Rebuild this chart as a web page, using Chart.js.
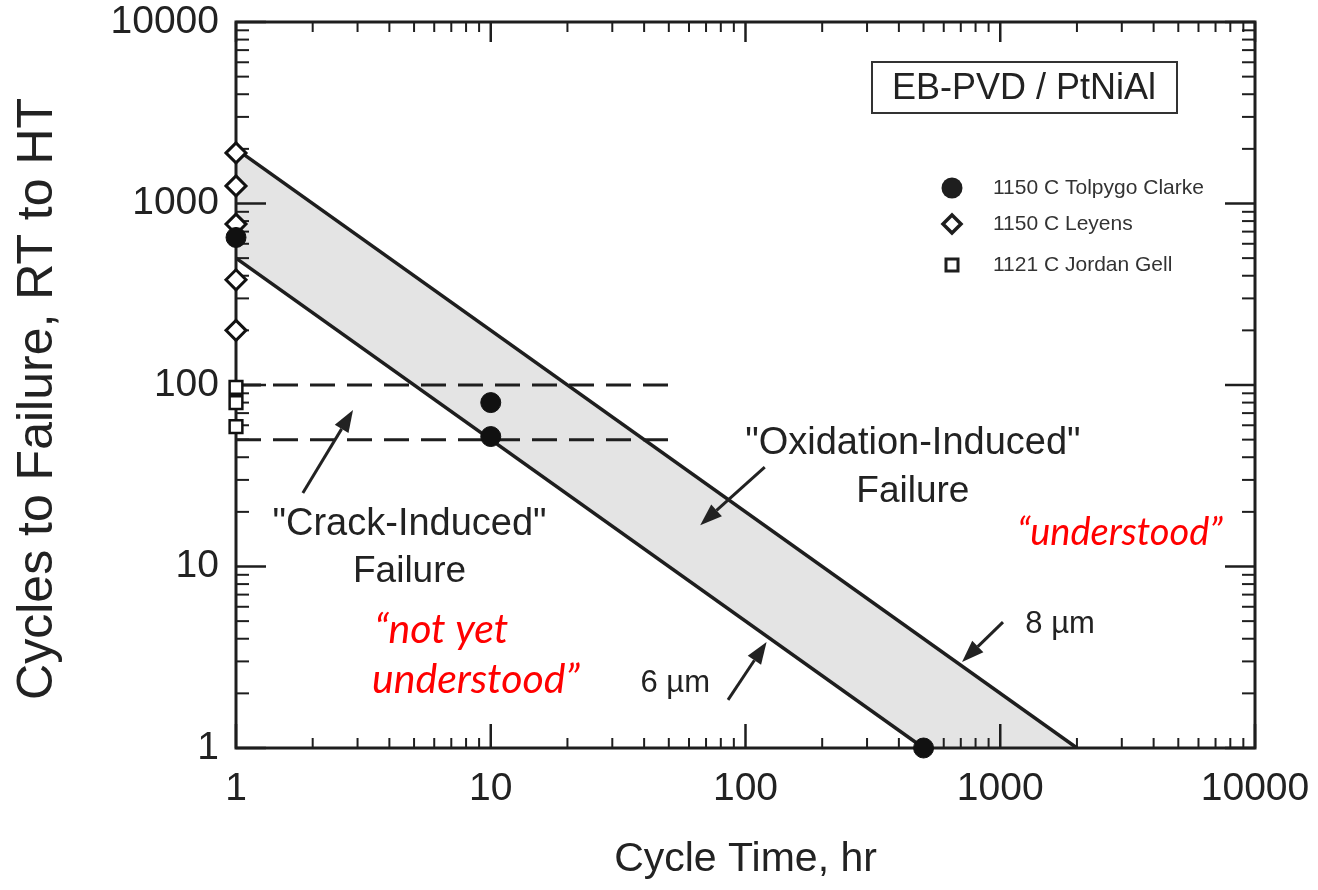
<!DOCTYPE html>
<html>
<head>
<meta charset="utf-8">
<script src="https://cdn.jsdelivr.net/npm/chart.js@4.4.1/dist/chart.umd.min.js"></script>
<style>
  html, body { margin: 0; padding: 0; background: #fff; }
</style>
</head>
<body>
<canvas id="myChart" width="1318" height="890"></canvas>
<script>
// ======================= data ================
const tickValues = [1, 10, 100, 1000, 10000];
const minorSteps = [2, 3, 4, 5, 6, 7, 8, 9];

// band limits (oxide thickness lines)
const line8umX = [1, 2000];
const line8umY = [2000, 1];
const line6umX = [1, 500];
const line6umY = [500, 1];
const bandBaseX = [1, 500, 2000];
const bandBaseY = [500, 1, 1];

// crack-induced limits
const crackLimitX = [1, 53];
const crackUpperY = [100, 100];
const crackLowerY = [50, 50];

// measured points
const tolpygoX = [1, 10, 10, 500];
const tolpygoY = [650, 80, 52, 1];
const leyensX = [1, 1, 1, 1, 1];
const leyensY = [1900, 1250, 770, 380, 200];
const jordanX = [1, 1, 1];
const jordanY = [97, 80, 59];

const SANS = '"Liberation Sans", Arial, Helvetica, sans-serif';
const INK = '#1e1e1e';

const pts = (xs, ys) => xs.map((x, i) => ({ x: x, y: ys[i] }));

// ======================= annotations ================
const notes = [
  { text: '"Crack-Induced"', x: 4.8, y: 17.1, size: 38 },
  { text: 'Failure', x: 4.8, y: 9.3, size: 37 },
  { text: '"Oxidation-Induced"', x: 454, y: 47.9, size: 38 },
  { text: 'Failure', x: 454, y: 25.7, size: 37 },
  { text: '6 \u00b5m', x: 53, y: 2.28, size: 31 },
  { text: '8 \u00b5m', x: 1717, y: 4.77, size: 31 }
];
const redNotes = [
  { text: '\u201cunderstood\u201d', x: 2950, y: 15.3, align: 'center', size: 38 },
  { text: '\u201cnot yet', x: 3.5, y: 4.47, align: 'left', size: 41 },
  { text: 'understood\u201d', x: 3.42, y: 2.37, align: 'left', size: 41 }
];
const arrows = [
  { from: [1.83, 25.4], to: [2.88, 72.8] },
  { from: [119, 35.3], to: [66.4, 16.9] },
  { from: [85.4, 1.84], to: [121, 3.84] },
  { from: [1025, 4.94], to: [708, 2.98] }
];
const legendItems = [
  { label: '1150 C Tolpygo Clarke', style: 'circle', dy: 166 },
  { label: '1150 C Leyens', style: 'diamond', dy: 202 },
  { label: '1121 C Jordan Gell', style: 'square', dy: 243 }
];

function drawArrow(ctx, x1, y1, x2, y2) {
  const ang = Math.atan2(y2 - y1, x2 - x1);
  const L = 22, W = 8;
  const bx = x2 - L * Math.cos(ang), by = y2 - L * Math.sin(ang);
  ctx.beginPath();
  ctx.moveTo(x1, y1);
  ctx.lineTo(bx, by);
  ctx.lineWidth = 3;
  ctx.stroke();
  ctx.beginPath();
  ctx.moveTo(x2, y2);
  ctx.lineTo(bx + W * Math.sin(ang), by - W * Math.cos(ang));
  ctx.lineTo(bx - W * Math.sin(ang), by + W * Math.cos(ang));
  ctx.closePath();
  ctx.fill();
}

const frameAndTicks = {
  id: 'frameAndTicks',
  beforeDatasetsDraw(chart) {
    const { ctx, chartArea: a, scales: { x, y } } = chart;
    const seg = (x1, y1, x2, y2) => { ctx.beginPath(); ctx.moveTo(x1, y1); ctx.lineTo(x2, y2); ctx.stroke(); };
    ctx.save();
    ctx.strokeStyle = INK;
    ctx.lineWidth = 2;
    tickValues.slice(0, -1).forEach(d => {
      minorSteps.forEach(m => {
        const px = x.getPixelForValue(d * m);
        const py = y.getPixelForValue(d * m);
        seg(px, a.bottom, px, a.bottom - 10);
        seg(px, a.top, px, a.top + 10);
        seg(a.left, py, a.left + 13, py);
        seg(a.right, py, a.right - 13, py);
      });
    });
    ctx.lineWidth = 2.5;
    tickValues.forEach(v => {
      const px = x.getPixelForValue(v);
      const py = y.getPixelForValue(v);
      seg(px, a.bottom, px, a.bottom - 24);
      seg(px, a.top, px, a.top + 20);
      seg(a.left, py, a.left + 30, py);
      seg(a.right, py, a.right - 30, py);
    });
    ctx.lineWidth = 3;
    ctx.strokeRect(a.left, a.top, a.width, a.height);
    ctx.restore();
  },
  afterDatasetsDraw(chart) {
    const { ctx, chartArea: a, scales: { x, y } } = chart;
    ctx.save();
    ctx.fillStyle = '#222';
    ctx.strokeStyle = '#222';
    ctx.textAlign = 'center';
    ctx.textBaseline = 'middle';
    notes.forEach(n => {
      ctx.font = n.size + 'px ' + SANS;
      ctx.fillText(n.text, x.getPixelForValue(n.x), y.getPixelForValue(n.y));
    });
    arrows.forEach(r => {
      drawArrow(ctx, x.getPixelForValue(r.from[0]), y.getPixelForValue(r.from[1]),
        x.getPixelForValue(r.to[0]), y.getPixelForValue(r.to[1]));
    });
    ctx.fillStyle = '#ff0000';
    redNotes.forEach(n => {
      ctx.font = 'italic ' + n.size + 'px Lato, "Open Sans", sans-serif';
      ctx.textAlign = n.align;
      ctx.fillText(n.text, x.getPixelForValue(n.x), y.getPixelForValue(n.y));
    });

    // title box
    const bx = a.right - 383, by = a.top + 40;
    ctx.fillStyle = '#fff';
    ctx.fillRect(bx, by, 305, 51);
    ctx.strokeStyle = '#333';
    ctx.lineWidth = 2;
    ctx.strokeRect(bx, by, 305, 51);
    ctx.fillStyle = '#222';
    ctx.textAlign = 'center';
    ctx.font = '36px ' + SANS;
    ctx.fillText('EB-PVD / PtNiAl', bx + 152, by + 27);

    // legend
    const lx = a.right - 303;
    ctx.font = '21px ' + SANS;
    ctx.textAlign = 'left';
    legendItems.forEach(it => {
      const ly = a.top + it.dy;
      ctx.fillStyle = INK;
      ctx.strokeStyle = INK;
      if (it.style === 'circle') {
        ctx.beginPath(); ctx.arc(lx, ly, 10.5, 0, Math.PI * 2); ctx.fill();
      } else if (it.style === 'diamond') {
        ctx.lineWidth = 3.5;
        ctx.beginPath();
        ctx.moveTo(lx, ly - 9); ctx.lineTo(lx + 9, ly); ctx.lineTo(lx, ly + 9); ctx.lineTo(lx - 9, ly);
        ctx.closePath(); ctx.stroke();
      } else {
        ctx.lineWidth = 3;
        ctx.strokeRect(lx - 6, ly - 6, 12, 12);
      }
      ctx.fillStyle = '#333';
      ctx.fillText(it.label, lx + 41, ly);
    });
    ctx.restore();
  }
};

const ctx = document.getElementById('myChart');

new Chart(ctx, {
  type: 'scatter',
  data: {
    datasets: [
      {
        label: '8 um', data: pts(line8umX, line8umY), showLine: true,
        borderColor: INK, borderWidth: 3.5, pointRadius: 0,
        fill: 1, backgroundColor: '#e4e4e4', order: 5
      },
      {
        label: 'band base', data: pts(bandBaseX, bandBaseY), showLine: true,
        borderColor: 'rgba(0,0,0,0)', borderWidth: 0, pointRadius: 0, fill: false, order: 9
      },
      {
        label: '6 um', data: pts(line6umX, line6umY), showLine: true,
        borderColor: INK, borderWidth: 3.5, pointRadius: 0, order: 4
      },
      {
        label: 'crack upper', data: pts(crackLimitX, crackUpperY), showLine: true,
        borderColor: INK, borderWidth: 3, borderDash: [25, 12], pointRadius: 0, order: 3
      },
      {
        label: 'crack lower', data: pts(crackLimitX, crackLowerY), showLine: true,
        borderColor: INK, borderWidth: 3, borderDash: [25, 12], pointRadius: 0, order: 3
      },
      {
        label: '1150 C Tolpygo Clarke', data: pts(tolpygoX, tolpygoY), showLine: false,
        pointStyle: 'circle', pointRadius: 10, backgroundColor: '#111', borderColor: '#111',
        borderWidth: 1, clip: false, order: 1
      },
      {
        label: '1150 C Leyens', data: pts(leyensX, leyensY), showLine: false,
        pointStyle: 'rectRot', pointRadius: 10, backgroundColor: '#fff', borderColor: '#111',
        borderWidth: 3, clip: false, order: 2
      },
      {
        label: '1121 C Jordan Gell', data: pts(jordanX, jordanY), showLine: false,
        pointStyle: 'rect', pointRadius: 9, backgroundColor: '#fff', borderColor: '#111',
        borderWidth: 2.5, clip: false, order: 2
      }
    ]
  },
  options: {
    responsive: false,
    animation: false,
    layout: { padding: { top: 22, right: 63, left: 0, bottom: 0 } },
    plugins: {
      legend: { display: false },
      tooltip: { enabled: false },
      filler: { drawTime: 'beforeDatasetsDraw' }
    },
    scales: {
      x: {
        type: 'logarithmic', min: 1, max: 10000, position: 'bottom',
        afterBuildTicks: s => { s.ticks = tickValues.map(v => ({ value: v })); },
        afterFit: s => { s.height = 142; s.paddingLeft = 0; s.paddingRight = 0; },
        grid: { display: false, drawTicks: false },
        border: { display: false },
        ticks: {
          callback: v => String(v), autoSkip: false, maxRotation: 0, padding: 18,
          color: '#222', font: { family: SANS, size: 39 }
        },
        title: {
          display: true, text: 'Cycle Time, hr', color: '#222',
          font: { family: SANS, size: 41 }, padding: { top: 0, bottom: 6 }
        }
      },
      y: {
        type: 'logarithmic', min: 1, max: 10000,
        afterBuildTicks: s => { s.ticks = tickValues.map(v => ({ value: v })); },
        afterFit: s => { s.width = 236; s.paddingTop = 0; s.paddingBottom = 0; },
        grid: { display: false, drawTicks: false },
        border: { display: false },
        ticks: {
          callback: v => String(v), autoSkip: false, padding: 17,
          color: '#222', font: { family: SANS, size: 39 }
        },
        title: {
          display: true, text: 'Cycles to Failure, RT to HT  ', color: '#222',
          font: { family: SANS, size: 50 }, padding: { top: 8, bottom: 0 }
        }
      }
    }
  },
  plugins: [frameAndTicks]
});
</script>
</body>
</html>
